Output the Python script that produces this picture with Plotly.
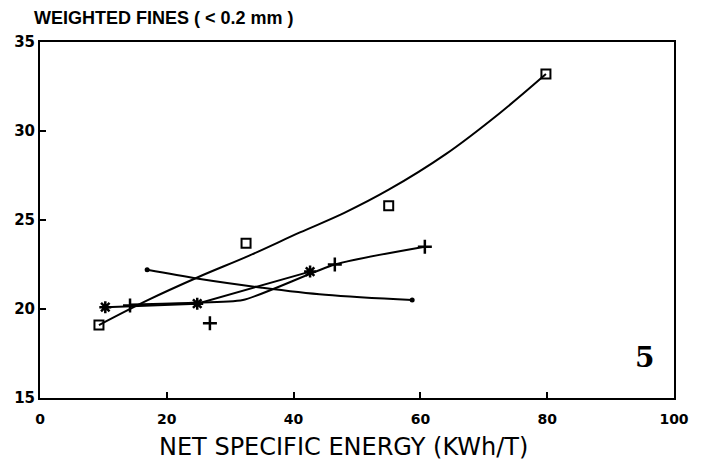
import plotly.graph_objects as go

# Measured points
sq_x = [9.3, 32.5, 55.0, 79.8]
sq_y = [19.1, 23.7, 25.8, 33.2]
plus_x = [14.2, 26.8, 46.5, 60.7]
plus_y = [20.2, 19.2, 22.5, 23.5]
star_x = [10.3, 24.8, 42.6]
star_y = [20.1, 20.3, 22.1]
dot_x = [16.9, 58.7]
dot_y = [22.2, 20.5]

# Fitted curves
sq_fit_x = [9.3, 17, 25, 33, 41, 48, 55, 64, 72.5, 79.8]
sq_fit_y = [19.1, 20.5, 21.8, 23.0, 24.3, 25.4, 26.7, 28.7, 31.0, 33.2]
plus_fit_x = [14.2, 24, 32, 46.5, 60.7]
plus_fit_y = [20.25, 20.35, 20.5, 22.5, 23.5]
star_fit_x = [10.3, 24.8, 42.6]
star_fit_y = [20.1, 20.3, 22.1]
dot_fit_x = [16.9, 25, 35, 45, 58.7]
dot_fit_y = [22.2, 21.7, 21.2, 20.8, 20.5]

x_ticks = [0, 20, 40, 60, 80, 100]
y_ticks = [15, 20, 25, 30, 35]

fig = go.Figure()
line_style = dict(color="black", width=2)
for fx, fy, sm in [(sq_fit_x, sq_fit_y, 1.0), (plus_fit_x, plus_fit_y, 0.6),
                   (star_fit_x, star_fit_y, 0.0), (dot_fit_x, dot_fit_y, 1.0)]:
    fig.add_trace(go.Scatter(x=fx, y=fy, mode="lines",
                             line=dict(shape="spline", smoothing=sm, **line_style),
                             hoverinfo="skip", showlegend=False))

fig.add_trace(go.Scatter(x=sq_x, y=sq_y, mode="markers",
                         marker=dict(symbol="square-open", size=9, color="black", line=dict(width=2)),
                         showlegend=False))
fig.add_trace(go.Scatter(x=plus_x, y=plus_y, mode="markers",
                         marker=dict(symbol="cross-thin-open", size=10, color="black", line=dict(width=2.5)),
                         showlegend=False))
fig.add_trace(go.Scatter(x=star_x, y=star_y, mode="markers",
                         marker=dict(symbol="asterisk-open", size=10, color="black", line=dict(width=2.5)),
                         showlegend=False))
fig.add_trace(go.Scatter(x=dot_x, y=dot_y, mode="markers",
                         marker=dict(symbol="circle", size=5, color="black"),
                         showlegend=False))

fig.add_annotation(x=95.4, y=17.3, text="<b>5</b>", showarrow=False,
                   font=dict(family="DejaVu Serif", size=28, color="black"))

fig.add_annotation(xref="paper", yref="paper", x=-8/634, y=1 + 24/356,
                   xanchor="left", yanchor="middle", showarrow=False,
                   text="WEIGHTED FINES ( &lt; 0.2 mm )",
                   font=dict(family="Liberation Sans", size=18, weight=800, color="black"))

fig.add_annotation(xref="paper", yref="paper", x=(343 - 40) / 634, y=-49/356,
                   xanchor="center", yanchor="middle", showarrow=False,
                   text="NET SPECIFIC ENERGY (KWh/T)",
                   font=dict(family="DejaVu Sans", size=24, color="black"))

fig.update_layout(
    width=704, height=463,
    margin=dict(l=32, r=38, t=34, b=73),
    paper_bgcolor="white", plot_bgcolor="white",
    font=dict(family="DejaVu Sans", color="black"),
)
fig.update_xaxes(range=[0, 100], tickvals=x_ticks, ticktext=[str(v) for v in x_ticks],
                 ticks="inside", ticklen=6, tickwidth=1.5, tickcolor="black",
                 showline=True, linecolor="black", linewidth=2, mirror=True, automargin=False,
                 showgrid=False, zeroline=False, tickfont=dict(size=14, weight=700), ticklabelstandoff=7)
fig.update_yaxes(range=[15, 35], tickvals=y_ticks, ticktext=[str(v) for v in y_ticks],
                 ticks="inside", ticklen=6, tickwidth=1.5, tickcolor="black",
                 showline=True, linecolor="black", linewidth=2, mirror=True, automargin=False,
                 showgrid=False, zeroline=False, tickfont=dict(size=15, weight=700))

fig.write_html("out.html")
